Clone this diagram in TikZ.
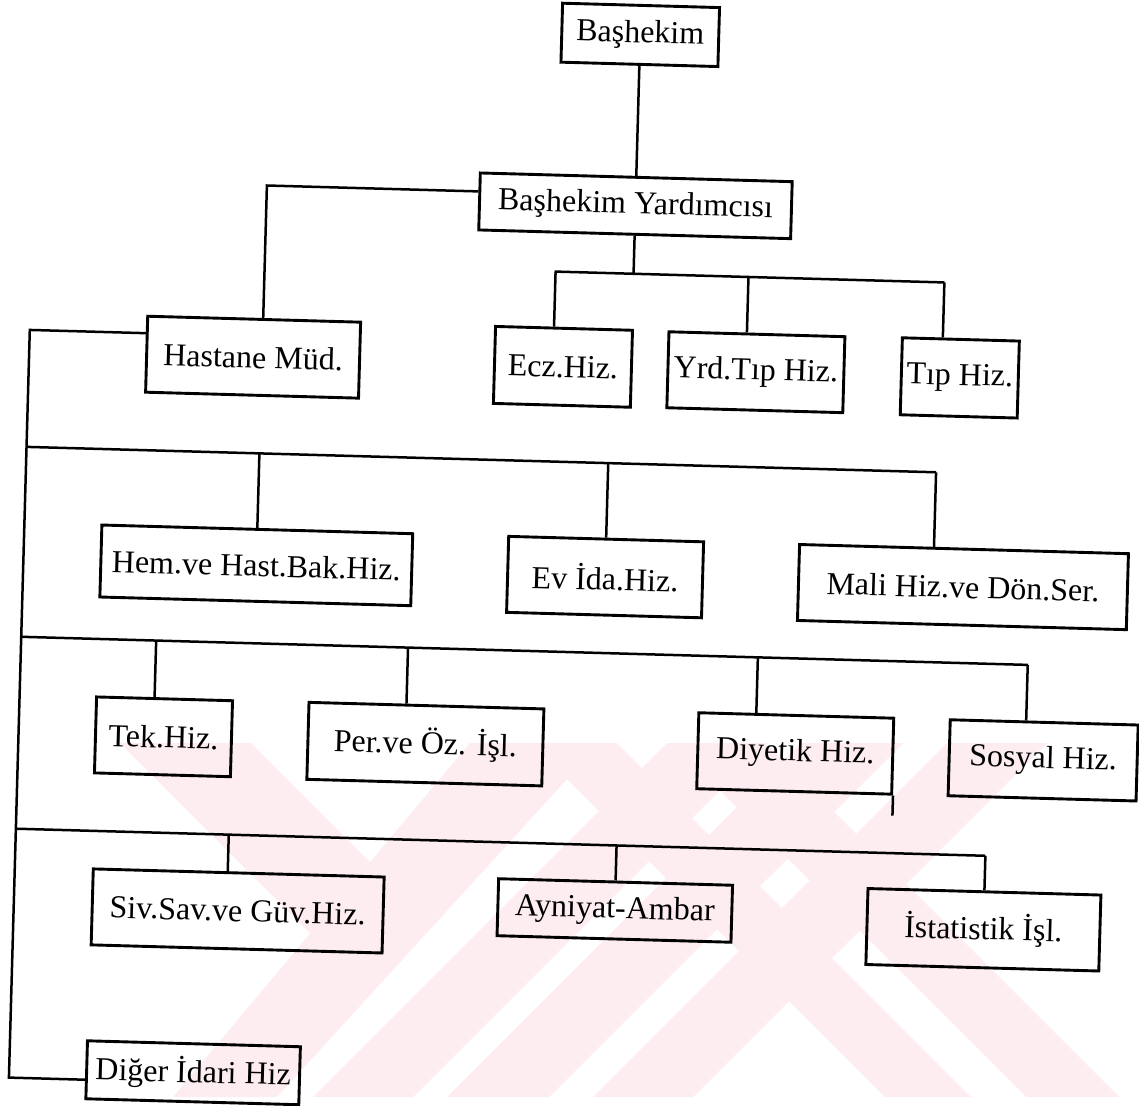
\documentclass[tikz,border=0pt]{standalone}
\usepackage{fontspec}
\setmainfont{Liberation Serif}
\usetikzlibrary{calc}
\definecolor{wmpink}{RGB}{253,236,240}

\begin{document}
\begin{tikzpicture}[x=1pt,y=-1pt,
    dept/.style={draw,line width=2.9pt,inner sep=0pt,transform shape,
      font=\fontsize{32}{38}\selectfont},
    link/.style={line width=2.5pt}]
    \useasboundingbox (0,0) rectangle (1139,1105);
    %% watermark
    \fill[wmpink] (120,743) -- (251,743) -- (434,926) -- (310,933) -- cycle;
    \foreach \ta/\tb/\ba/\bb in {470/600/173/277,667/767/313/413,801/903/447/549,947/1047/593/693,531/617/885/971,672/765/1026/1119}
        \fill[wmpink] (\ta,743) -- (\tb,743) -- (\bb,1097) -- (\ba,1097) -- cycle;
    \begin{scope}[rotate=-1.6]
        %% units
        \node[dept,minimum width=157,minimum height=59] (bas) at (641,17) {Başhekim};
        \node[dept,minimum width=312,minimum height=57] (yard) at (641,188) {Başhekim Yardımcısı};
        \node[dept,minimum width=213,minimum height=76] (hast) at (263,350) {Hastane Müd.};
        \node[dept,minimum width=137,minimum height=77] (ecz) at (573,351) {Ecz.Hiz.};
        \node[dept,minimum width=176,minimum height=76] (yrd) at (766,351) {Yrd.Tıp Hiz.};
        \node[dept,minimum width=117,minimum height=77] (tip) at (970,351) {Tıp Hiz.};
        \node[dept,minimum width=311,minimum height=72] (hem) at (272,558) {Hem.ve Hast.Bak.Hiz.};
        \node[dept,minimum width=195,minimum height=76] (ev) at (621,560) {Ev İda.Hiz.};
        \node[dept,minimum width=329,minimum height=76] (mali) at (979,560) {Mali Hiz.ve Dön.Ser.};
        \node[dept,minimum width=136,minimum height=76] (tek) at (184,732) {Tek.Hiz.};
        \node[dept,minimum width=235,minimum height=77] (per) at (446,732) {Per.ve Öz. İşl.};
        \node[dept,minimum width=195,minimum height=76] (diy) at (816,731) {Diyetik Hiz.};
        \node[dept,minimum width=188,minimum height=76] (sos) at (1064,731) {Sosyal Hiz.};
        \node[dept,minimum width=291,minimum height=76] (siv) at (263,904) {Siv.Sav.ve Güv.Hiz.};
        \node[dept,minimum width=234,minimum height=57] (ayn) at (640,893) {Ayniyat-Ambar};
        \node[dept,minimum width=233,minimum height=76] (ist) at (1009,902) {İstatistik İşl.};
        \node[dept,minimum width=213,minimum height=58] (dig) at (223,1067) {Diğer İdari Hiz};
        %% links
        \draw[link] (bas.south) -- (yard.north);
        \coordinate (hcorner) at (272,178);
        \draw[link] ($(yard.west)+(0,-10)$) -- (hcorner) -- ($(hast.north)+(9,0)$);
        \coordinate (spine top) at (39,329);
        \coordinate (spine bot) at (39,1077);
        \draw[link] ($(hast.west)+(0,-21)$) -- (spine top) -- (spine bot) -- ($(dig.west)+(0,10)$);
        %% buses
        \coordinate (b0l) at (562,256); \coordinate (b0r) at (952,256);
        \coordinate (b1l) at (39,446);  \coordinate (b1r) at (949,446);
        \coordinate (b2l) at (39,636);  \coordinate (b2r) at (1046,636);
        \coordinate (b3l) at (39,828);  \coordinate (b3r) at (1009,828);
        \foreach \i in {0,...,3}
            \draw[link] (b\i l) -- (b\i r);
        \draw[link] (yard.south) -- ($(b0l)!(yard.south)!(b0r)$);
        \foreach \n/\d/\b in {ecz/-10/0,yrd/-10/0,tip/-18/0,hem/0/1,ev/0/1,mali/-30/1,tek/-10/2,per/-20/2,diy/-40/2,sos/-18/2,siv/-11/3,ayn/0/3,ist/0/3} {
            \coordinate (\n top) at ($(\n.north)+(\d,0)$);
            \draw[link] (\n top) -- ($(b\b l)!(\n top)!(b\b r)$);
        }
        \coordinate (diy stub) at ($(diy.south east)+(0,20)$);
        \draw[link] (diy.south east) -- (diy stub);
    \end{scope}
\end{tikzpicture}
\end{document}
